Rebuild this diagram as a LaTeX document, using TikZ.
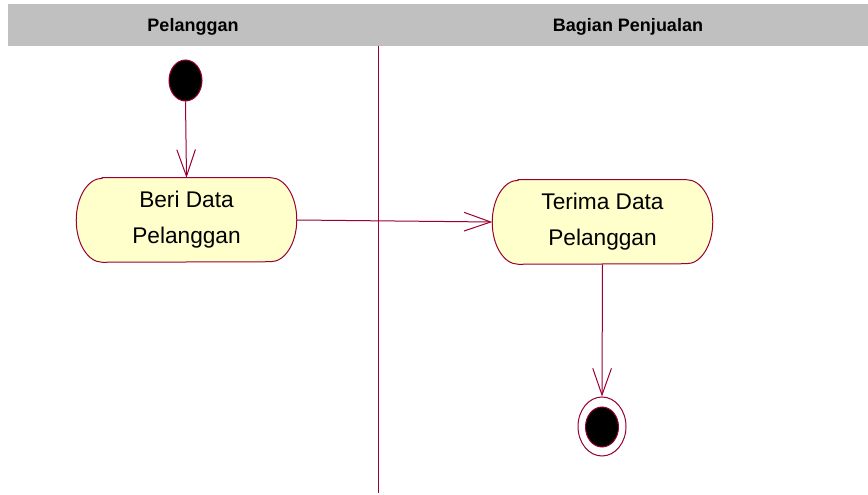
\documentclass[tikz,border=0pt]{standalone}
\usepackage{fontspec}
\setmainfont{Liberation Sans}
\usetikzlibrary{arrows.meta,shapes.geometric,backgrounds}
\definecolor{umlred}{RGB}{153,0,51}
\definecolor{umlfill}{RGB}{255,255,204}
\definecolor{lanegray}{RGB}{192,192,192}
\newcommand\actoutline[1]{%
  \begin{scope}[on background layer]
  \path[draw=umlred, fill=umlfill, line width=0.75pt]
    ([xshift=19.5pt]#1.north west) -- ([xshift=-19.5pt]#1.north east)
    arc[start angle=90, end angle=-90, x radius=19.5pt, y radius=31.5pt]
    -- ([xshift=19.5pt]#1.south west)
    arc[start angle=270, end angle=90, x radius=19.5pt, y radius=31.5pt] -- cycle;
  \end{scope}}
\begin{document}
\begin{tikzpicture}[x=0.75pt,y=-0.75pt,
  conn/.style={draw=umlred, line width=0.75pt, -{Straight Barb[length=20pt,width=14pt]}},
  activity/.style={minimum width=165pt, minimum height=63pt, inner sep=0pt, align=center,
    font=\fontsize{17}{27}\selectfont},
  lanehead/.style={font=\fontsize{13.5}{16}\selectfont\bfseries, inner sep=0pt},
  startdot/.style={ellipse, draw=umlred, fill=black, line width=0.75pt, minimum width=24.75pt, minimum height=30.75pt, inner sep=0pt},
  endring/.style={ellipse, draw=umlred, fill=white, line width=0.75pt, minimum width=36pt, minimum height=44.25pt, inner sep=0pt},
  enddot/.style={ellipse, draw=umlred, fill=black, line width=0.75pt, minimum width=24.75pt, minimum height=30pt, inner sep=0pt}]
\useasboundingbox (0,0) rectangle (868,495);
\fill[lanegray] (8,4) rectangle (868,46);
\node[lanehead] (h1) at (193,27) {Pelanggan};
\node[lanehead] (h2) at (628,27) {Bagian Penjualan};
\coordinate (divtop) at (378,46);
\coordinate (divbot) at (378,493);
\draw[umlred, line width=0.75pt] (divtop) -- (divbot);

\node[startdot] (start) at (185.5,80.5) {};
\node[activity] (beri) at (186.5,220) {Beri Data\\Pelanggan};
\actoutline{beri}
\node[activity] (terima) at (602.5,222) {Terima Data\\Pelanggan};
\actoutline{terima}
\node[endring] (endo) at (602,426.5) {};
\node[enddot] (endi) at (602,427) {};

\draw[conn] (start.south) -- (beri.north);
\draw[conn] (beri.east) -- (terima.west);
\draw[conn] (terima.south) -- (endo.north);
\end{tikzpicture}
\end{document}
